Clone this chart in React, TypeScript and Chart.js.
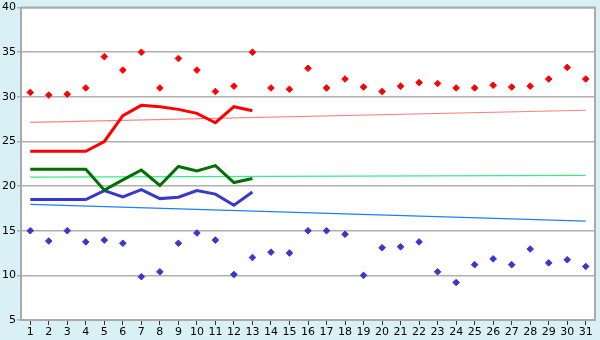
import React, { useEffect, useRef } from "react";
import { Chart, registerables } from "chart.js";

Chart.register(...registerables);

const days = Array.from({ length: 31 }, (_, i) => String(i + 1));

const maxPoints = [30.5, 30.2, 30.3, 31.0, 34.5, 33.0, 35.0, 31.0, 34.3, 33.0, 30.6, 31.2, 35.0, 31.0, 30.85, 33.2, 31.0, 32.0, 31.1, 30.6, 31.2, 31.6, 31.5, 31.0, 31.0, 31.3, 31.1, 31.2, 32.0, 33.3, 32.0];
const minPoints = [15.0, 13.85, 15.0, 13.75, 13.95, 13.6, 9.85, 10.4, 13.6, 14.75, 13.95, 10.1, 12.0, 12.6, 12.5, 15.0, 15.0, 14.6, 10.0, 13.1, 13.2, 13.75, 10.4, 9.2, 11.2, 11.85, 11.2, 12.95, 11.4, 11.75, 11.0];

const redLine = [23.9, 23.9, 23.9, 23.9, 25.0, 27.9, 29.05, 28.9, 28.6, 28.15, 27.1, 28.9, 28.45];
const greenLine = [21.9, 21.9, 21.9, 21.9, 19.55, 20.7, 21.8, 20.07, 22.2, 21.7, 22.3, 20.4, 20.85];
const blueLine = [18.5, 18.5, 18.5, 18.5, 19.5, 18.8, 19.6, 18.6, 18.75, 19.5, 19.1, 17.85, 19.33];

const redTrend = [27.15, 28.5];
const greenTrend = [21.0, 21.2];
const blueTrend = [17.96, 16.07];

const yTicks = [5, 10, 15, 20, 25, 30, 35, 40];

const trendData = (t: number[]) => [
  { x: days[0], y: t[0] },
  { x: days[days.length - 1], y: t[1] },
];

export default function App() {
  const ref = useRef<HTMLCanvasElement | null>(null);
  useEffect(() => {
    document.body.style.margin = "0";
    const canvas = ref.current!;
    const borderPlugin = {
      id: "frame",
      beforeDraw(chart: any) {
        const { ctx, chartArea: a } = chart;
        ctx.save();
        ctx.fillStyle = "#d9f0f6";
        ctx.fillRect(0, 0, chart.width, chart.height);
        ctx.fillStyle = "#ffffff";
        ctx.fillRect(a.left, a.top, a.right - a.left, a.bottom - a.top);
        ctx.restore();
      },
      afterDatasetsDraw(chart: any) {
        const { ctx, chartArea: a } = chart;
        ctx.save();
        ctx.strokeStyle = "#aaaaaa";
        ctx.lineWidth = 2;
        ctx.beginPath();
        ctx.moveTo(a.left, a.top);
        ctx.lineTo(a.right, a.top);
        ctx.lineTo(a.right, a.bottom);
        ctx.stroke();
        ctx.restore();
      },
    };
    const chart = new Chart(canvas, {
      type: "line",
      data: {
        labels: days,
        datasets: [
          { data: trendData(redTrend), borderColor: "#ff8080", borderWidth: 1.2, pointRadius: 0, order: 10 },
          { data: trendData(greenTrend), borderColor: "#33ee88", borderWidth: 1.2, pointRadius: 0, order: 10 },
          { data: trendData(blueTrend), borderColor: "#1a80ff", borderWidth: 1.2, pointRadius: 0, order: 10 },
          { data: blueLine, borderColor: "#3838cc", borderWidth: 3, pointRadius: 0, order: 6 },
          { data: greenLine, borderColor: "#007000", borderWidth: 3, pointRadius: 0, order: 5 },
          { data: redLine, borderColor: "#ff0000", borderWidth: 3, pointRadius: 0, order: 4 },
          { data: maxPoints, showLine: false, pointStyle: "rectRot", pointRadius: 3.3, backgroundColor: "#ff0000", borderColor: "#ff0000", borderWidth: 1, order: 1 },
          { data: minPoints, showLine: false, pointStyle: "rectRot", pointRadius: 3.3, backgroundColor: "#3838cc", borderColor: "#3838cc", borderWidth: 1, order: 1 },
        ],
      },
      options: {
        responsive: false,
        animation: false,
        layout: { padding: { top: 5, right: 5, left: 0, bottom: 0 } },
        plugins: { legend: { display: false }, tooltip: { enabled: false } },
        elements: { line: { tension: 0 } },
        scales: {
          x: {
            type: "category",
            offset: true,
            grid: { display: true, drawOnChartArea: false, drawTicks: true, tickLength: 5, color: "#333333", offset: false },
            border: { display: true, color: "#aaaaaa", width: 2 },
            ticks: {
              color: "#000000",
              font: { family: "DejaVu Sans", size: 11 },
              padding: 1,
              maxRotation: 0,
              autoSkip: false,
            },
            afterFit(scale: any) { scale.height = 20; },
          },
          y: {
            min: 5,
            max: 40,
            afterBuildTicks(scale: any) { scale.ticks = yTicks.map((v) => ({ value: v })); },
            grid: { color: "#b0b0b0", lineWidth: 1.5, drawTicks: true, tickLength: 4 },
            border: { display: true, color: "#aaaaaa", width: 2 },
            ticks: {
              color: "#000000",
              font: { family: "DejaVu Sans", size: 11 },
              padding: 1,
            },
            afterFit(scale: any) { scale.width = 21; },
          },
        },
      },
      plugins: [borderPlugin],
    });
    return () => chart.destroy();
  }, []);
  return (
    <div style={{ width: 600, height: 340 }}>
      <canvas ref={ref} width={600} height={340} style={{ display: "block" }} />
    </div>
  );
}
